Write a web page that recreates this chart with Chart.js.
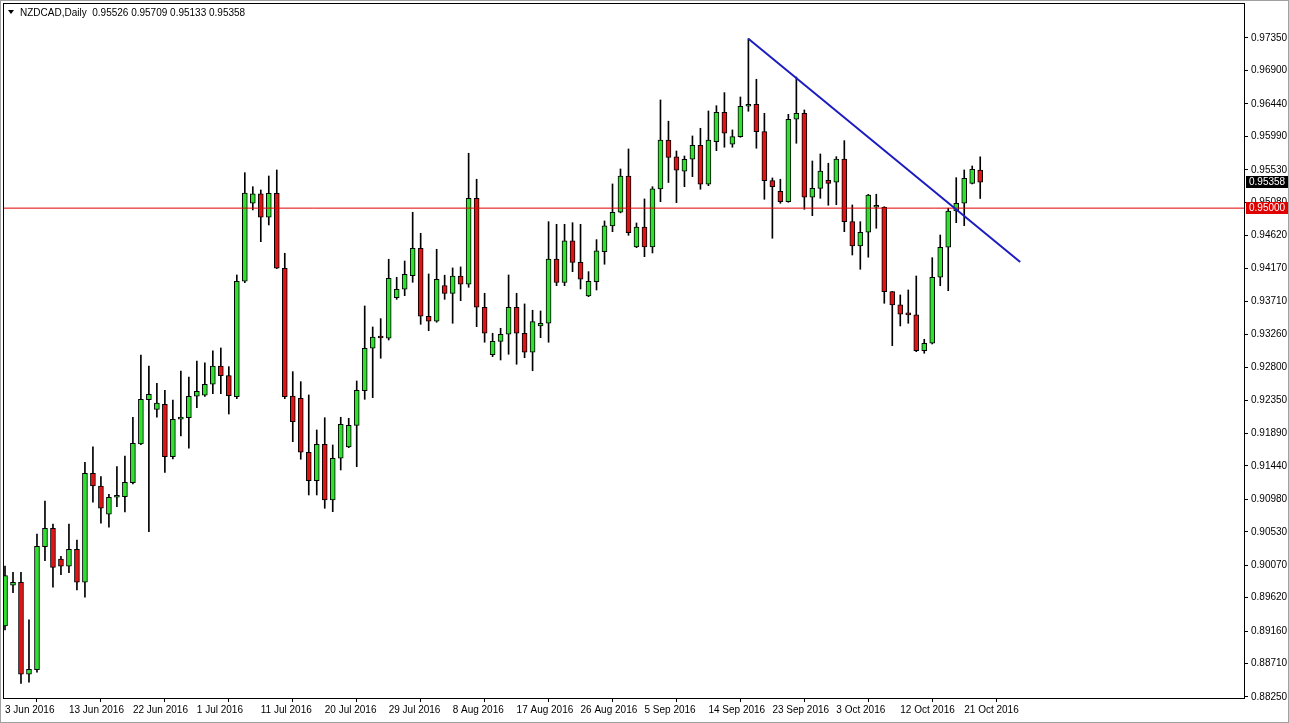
<!DOCTYPE html>
<html>
<head>
<meta charset="utf-8">
<script src="https://cdn.jsdelivr.net/npm/chart.js@4.4.1/dist/chart.umd.min.js"></script>
<style>
  html, body { margin: 0; padding: 0; background: #fff; }
  #wrap { width: 1289px; height: 723px; }
</style>
</head>
<body>
<div id="wrap"><canvas id="chart" width="1289" height="723"></canvas></div>
<script>
// NZDCAD daily candles, 3 Jun 2016 .. 24 Oct 2016 (broker shows Sunday bars)
const opens = [
  0.89230, 0.89792, 0.89833, 0.88563, 0.88626, 0.90325, 0.90579, 0.90155, 0.90054, 0.90289,
  0.89833, 0.91339, 0.91163, 0.90772, 0.91007, 0.91015, 0.91209, 0.91743, 0.92355, 0.92222,
  0.92291, 0.91568, 0.92084, 0.92106, 0.92402, 0.92416, 0.92568, 0.92820, 0.92686, 0.92396,
  0.93990, 0.95067, 0.95196, 0.94874, 0.95205, 0.94170, 0.92406, 0.92374, 0.91629, 0.91236,
  0.91739, 0.90970, 0.91546, 0.91702, 0.92001, 0.92479, 0.93065, 0.93217, 0.93203, 0.93764,
  0.93880, 0.94067, 0.94446, 0.93507, 0.93438, 0.93932, 0.93824, 0.94063, 0.93949, 0.95136,
  0.93631, 0.92976, 0.93161, 0.93258, 0.93631, 0.93272, 0.93010, 0.93373, 0.93410, 0.94298,
  0.93973, 0.94547, 0.94252, 0.93787, 0.93985, 0.94399, 0.94754, 0.94943, 0.95444, 0.94464,
  0.94740, 0.94464, 0.95265, 0.95939, 0.95707, 0.95509, 0.95675, 0.95868, 0.95330, 0.95918,
  0.96324, 0.95882, 0.95987, 0.96407, 0.96434, 0.96056, 0.95379, 0.95233, 0.95089, 0.96227,
  0.96310, 0.95150, 0.95274, 0.95385, 0.95357, 0.95679, 0.94813, 0.94478, 0.94667, 0.95012,
  0.95010, 0.93846, 0.93663, 0.93538, 0.93525, 0.93032, 0.93134, 0.94045, 0.94460, 0.94961,
  0.95067, 0.95343, 0.95526
];
const highs = [
  0.90058, 0.89971, 0.89971, 0.89313, 0.90500, 0.90956, 0.90638, 0.90192, 0.90638, 0.90417,
  0.91490, 0.91702, 0.91292, 0.91049, 0.91430, 0.91577, 0.92112, 0.92972, 0.92820, 0.92581,
  0.92485, 0.92351, 0.92751, 0.92668, 0.92889, 0.92862, 0.93028, 0.93069, 0.92811, 0.94077,
  0.95490, 0.95296, 0.95251, 0.95444, 0.95527, 0.94377, 0.92742, 0.92604, 0.92420, 0.91937,
  0.92106, 0.91729, 0.92112, 0.92098, 0.92613, 0.93649, 0.93359, 0.93474, 0.94294, 0.94045,
  0.94270, 0.94943, 0.94653, 0.94091, 0.94432, 0.94074, 0.94174, 0.94188, 0.95758, 0.95399,
  0.93824, 0.93272, 0.93341, 0.94077, 0.93824, 0.93677, 0.93590, 0.93580, 0.94813, 0.94777,
  0.94777, 0.94799, 0.94777, 0.94123, 0.94565, 0.94823, 0.95334, 0.95541, 0.95817, 0.94795,
  0.95127, 0.95296, 0.96494, 0.96201, 0.95789, 0.95720, 0.95997, 0.96103, 0.96342, 0.96415,
  0.96595, 0.96080, 0.96535, 0.97340, 0.96780, 0.96310, 0.95417, 0.95399, 0.96296, 0.96811,
  0.96356, 0.95651, 0.95748, 0.95620, 0.95711, 0.95932, 0.95044, 0.94813, 0.95190, 0.95192,
  0.95020, 0.93850, 0.93801, 0.93870, 0.94063, 0.93189, 0.94316, 0.94629, 0.94998, 0.95421,
  0.95527, 0.95582, 0.95709
];
const lows = [
  0.89175, 0.89690, 0.88438, 0.88452, 0.88590, 0.90132, 0.89764, 0.89938, 0.89966, 0.89727,
  0.89626, 0.90938, 0.90648, 0.90593, 0.90877, 0.90804, 0.91191, 0.91734, 0.90532, 0.92112,
  0.91352, 0.91536, 0.91854, 0.91684, 0.92244, 0.92399, 0.92438, 0.92438, 0.92157, 0.92369,
  0.93971, 0.94975, 0.94537, 0.94768, 0.94165, 0.92369, 0.91775, 0.91532, 0.91039, 0.91039,
  0.90855, 0.90808, 0.91384, 0.91692, 0.91430, 0.92360, 0.92383, 0.92927, 0.93179, 0.93741,
  0.93791, 0.93976, 0.93396, 0.93308, 0.93424, 0.93741, 0.93410, 0.93722, 0.93907, 0.93363,
  0.93148, 0.92949, 0.92903, 0.92982, 0.92844, 0.92935, 0.92755, 0.93211, 0.93148, 0.93929,
  0.93929, 0.94123, 0.93884, 0.93777, 0.93870, 0.94225, 0.94675, 0.94935, 0.94625, 0.94454,
  0.94330, 0.94381, 0.95089, 0.95354, 0.95076, 0.95296, 0.95435, 0.95261, 0.95310, 0.95794,
  0.95841, 0.95841, 0.95979, 0.96338, 0.95827, 0.95122, 0.94584, 0.95067, 0.95081, 0.95896,
  0.94984, 0.94896, 0.95136, 0.95040, 0.95048, 0.94675, 0.94353, 0.94156, 0.94322, 0.94722,
  0.93686, 0.93101, 0.93373, 0.93410, 0.93018, 0.92996, 0.93124, 0.93929, 0.93860, 0.94799,
  0.94758, 0.95334, 0.95133
];
const closes = [
  0.89924, 0.89833, 0.88563, 0.88632, 0.90330, 0.90579, 0.90040, 0.90054, 0.90289, 0.89833,
  0.91339, 0.91163, 0.90855, 0.91007, 0.91015, 0.91214, 0.91753, 0.92360, 0.92430, 0.92309,
  0.91568, 0.92084, 0.92116, 0.92402, 0.92471, 0.92568, 0.92820, 0.92686, 0.92410, 0.93990,
  0.95209, 0.95196, 0.94874, 0.95205, 0.94170, 0.92396, 0.92051, 0.91629, 0.91236, 0.91739,
  0.90970, 0.91546, 0.92015, 0.92001, 0.92485, 0.93065, 0.93221, 0.93207, 0.94031, 0.93880,
  0.94087, 0.94446, 0.93507, 0.93438, 0.94018, 0.93824, 0.94063, 0.93949, 0.95136, 0.93631,
  0.93272, 0.93161, 0.93258, 0.93631, 0.93272, 0.93010, 0.93432, 0.93410, 0.94298, 0.93973,
  0.94547, 0.94252, 0.94018, 0.93990, 0.94409, 0.94754, 0.94943, 0.95444, 0.94661, 0.94740,
  0.94464, 0.95265, 0.95939, 0.95700, 0.95523, 0.95675, 0.95868, 0.95330, 0.95941, 0.96324,
  0.96034, 0.95987, 0.96407, 0.96434, 0.96056, 0.95379, 0.95296, 0.95089, 0.96227, 0.96310,
  0.95150, 0.95274, 0.95513, 0.95343, 0.95679, 0.94813, 0.94478, 0.94667, 0.95182, 0.95020,
  0.93846, 0.93663, 0.93534, 0.93525, 0.93032, 0.93134, 0.94045, 0.94460, 0.94961, 0.95067,
  0.95412, 0.95537, 0.95358
];

// date labels shown under the chart, one every 8 bars
const tickBars = [0, 8, 16, 24, 32, 40, 48, 56, 64, 72, 80, 88, 96, 104, 112, 120];
const tickLabels = ['3 Jun 2016', '13 Jun 2016', '22 Jun 2016', '1 Jul 2016', '11 Jul 2016',
  '20 Jul 2016', '29 Jul 2016', '8 Aug 2016', '17 Aug 2016', '26 Aug 2016', '5 Sep 2016',
  '14 Sep 2016', '23 Sep 2016', '3 Oct 2016', '12 Oct 2016', '21 Oct 2016'];

const priceTicks = [0.97350, 0.96900, 0.96440, 0.95990, 0.95530, 0.95080, 0.94620, 0.94170,
  0.93710, 0.93260, 0.92800, 0.92350, 0.91890, 0.91440, 0.90980, 0.90530, 0.90070, 0.89620,
  0.89160, 0.88710, 0.88250];

// drawn objects: down trend line and horizontal level
const trendBars = [93, 127];
const trendPrices = [0.97340, 0.94257];
const levelPrice = 0.95000;

const header = 'NZDCAD,Daily  0.95526 0.95709 0.95133 0.95358';
const lastPrice = closes[closes.length - 1];

const bull = '#2fe02f';
const bear = '#e01414';
const font = 'Liberation Sans';
Chart.defaults.font.family = font;

const overlay = {
  id: 'overlay',
  afterDraw(chart) {
    const { ctx, chartArea: a, scales: { y } } = chart;
    ctx.save();
    // outer window border + chart frame
    ctx.strokeStyle = '#a0a0a0';
    ctx.lineWidth = 1;
    ctx.strokeRect(0.5, 0.5, chart.width - 1, chart.height - 1);
    ctx.strokeStyle = '#000';
    ctx.strokeRect(a.left + 0.5, a.top + 0.5, a.right - a.left, a.bottom - a.top);

    // header
    ctx.fillStyle = '#000';
    ctx.textBaseline = 'middle';
    ctx.beginPath();
    ctx.moveTo(a.left + 5, a.top + 7);
    ctx.lineTo(a.left + 11, a.top + 7);
    ctx.lineTo(a.left + 8, a.top + 11);
    ctx.closePath();
    ctx.fill();
    ctx.font = '10px "' + font + '"';
    ctx.fillText(header, a.left + 17, a.top + 10);

    // price boxes on the axis
    const box = (price, bg) => {
      const py = Math.round(y.getPixelForValue(price));
      ctx.fillStyle = bg;
      ctx.fillRect(a.right + 2, py - 6, chart.width - a.right - 3, 12);
      ctx.fillStyle = '#fff';
      ctx.fillText(price.toFixed(5), a.right + 5, py + 0.5);
    };
    box(levelPrice, '#e00000');
    box(lastPrice, '#000');
    ctx.restore();
  }
};

new Chart(document.getElementById('chart'), {
  type: 'bar',
  data: {
    datasets: [
      {
        type: 'line',
        data: trendBars.map((b, i) => ({ x: b, y: trendPrices[i] })),
        borderColor: '#1c1cc0',
        borderWidth: 2,
        pointRadius: 0,
        order: 0
      },
      {
        type: 'line',
        data: [{ x: -0.25, y: levelPrice }, { x: 160, y: levelPrice }],
        borderColor: '#e00000',
        borderWidth: 1,
        pointRadius: 0,
        order: 1
      },
      {
        data: opens.map((o, i) => ({ x: i, y: [o, closes[i]] })),
        backgroundColor: opens.map((o, i) => closes[i] >= o ? bull : bear),
        borderColor: '#000',
        borderWidth: 1,
        borderSkipped: false,
        barThickness: 5,
        minBarLength: 2,
        grouped: false,
        order: 2
      },
      {
        data: lows.map((l, i) => ({ x: i, y: [l, highs[i]] })),
        backgroundColor: '#000',
        borderWidth: 0,
        barThickness: 1,
        grouped: false,
        order: 3
      }
    ]
  },
  options: {
    responsive: false,
    animation: false,
    events: [],
    layout: { padding: { left: 3, top: 3, right: 0, bottom: 0 } },
    plugins: { legend: { display: false }, tooltip: { enabled: false } },
    scales: {
      x: {
        type: 'linear',
        min: -0.25,
        max: 155,
        offset: false,
        afterBuildTicks: s => { s.ticks = tickBars.map(v => ({ value: v })); },
        afterFit: s => { s.height = 25; s.paddingLeft = 0; s.paddingRight = 0; },
        ticks: {
          autoSkip: false,
          maxRotation: 0,
          align: 'start',
          padding: 2,
          color: '#000',
          font: { size: 10 },
          callback: (v, i) => tickLabels[i]
        },
        grid: { drawOnChartArea: false, drawTicks: true, tickLength: 4, color: '#000' },
        border: { display: true, color: '#000' }
      },
      y: {
        position: 'right',
        min: 0.88235,
        max: 0.97833,
        afterBuildTicks: s => { s.ticks = priceTicks.map(v => ({ value: v })); },
        afterFit: s => { s.width = 45; s.paddingTop = 0; s.paddingBottom = 0; },
        ticks: {
          autoSkip: false,
          padding: 3,
          color: '#000',
          font: { size: 10 },
          callback: v => v.toFixed(5)
        },
        grid: { drawOnChartArea: false, drawTicks: true, tickLength: 4, color: '#000' },
        border: { display: true, color: '#000' }
      }
    }
  },
  plugins: [overlay]
});
</script>
</body>
</html>
